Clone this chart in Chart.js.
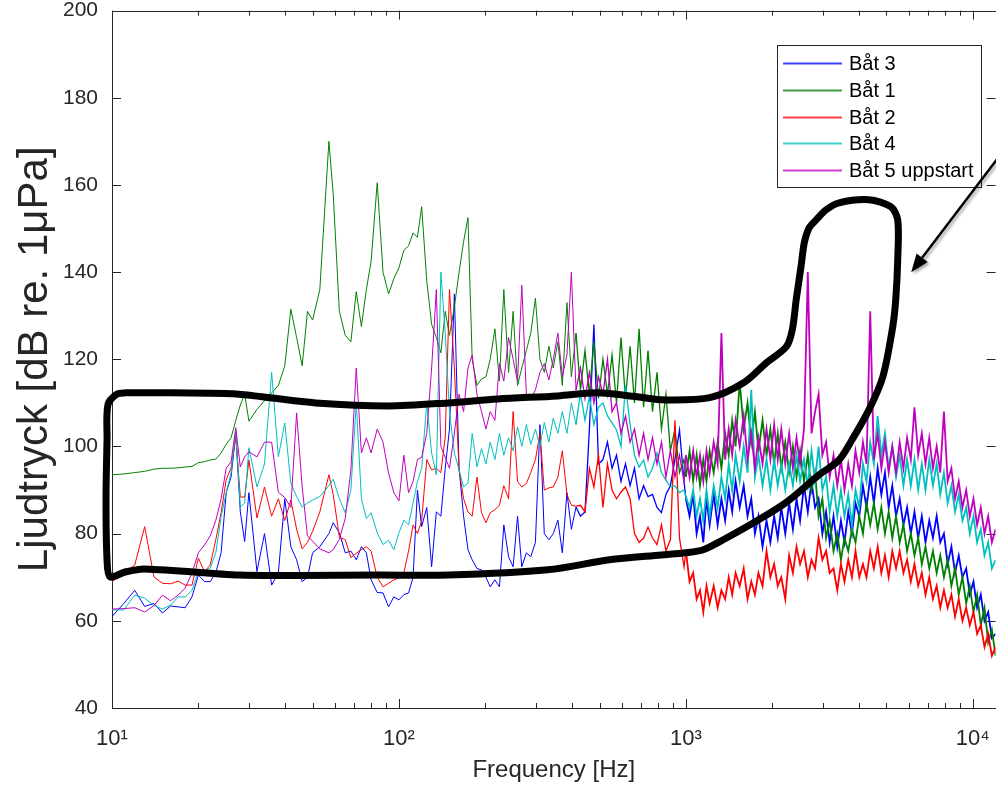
<!DOCTYPE html>
<html>
<head>
<meta charset="UTF-8">
<title>Ljudtryck</title>
<script src="https://cdn.jsdelivr.net/npm/chart.js"></script>
<style>
  html, body { margin: 0; padding: 0; background: #fff; overflow: hidden; }
  #wrap { position: absolute; left: 0; top: -16px; }
</style>
</head>
<body>
<div id="wrap"><canvas id="myChart" width="1008" height="801"></canvas></div>
<script>
// frequency grid [Hz], rows of 10
var freq = [
  10, 11, 12, 13, 14, 15, 16, 17, 18, 19,
  20, 21, 22, 23, 24, 25, 26, 27, 28, 29,
  30, 32, 34, 36, 38, 40, 42, 44, 46, 48,
  50, 53, 57, 59, 62, 65, 68, 71, 74, 77,
  80, 84, 88, 92, 96, 100, 104, 108, 112, 116,
  120, 125, 130, 135, 140, 145, 150, 156, 162, 168,
  174, 180, 187, 194, 201, 208, 216, 224, 232, 241,
  250, 259, 268, 278, 288, 299, 310, 321, 333, 345,
  358, 371, 385, 399, 414, 429, 445, 461, 478, 496,
  514, 533, 553, 573, 594, 616, 639, 662, 687, 712,
  738, 765, 793, 822, 852, 883, 916, 950, 985, 1000,
  1030, 1060, 1090, 1120, 1150, 1180, 1210, 1250, 1290, 1330,
  1370, 1410, 1450, 1490, 1540, 1590, 1640, 1690, 1740, 1790,
  1850, 1910, 1970, 2030, 2090, 2150, 2220, 2290, 2360, 2430,
  2500, 2580, 2660, 2740, 2820, 2900, 2990, 3080, 3170, 3270,
  3370, 3470, 3570, 3680, 3790, 3900, 4020, 4140, 4260, 4390,
  4520, 4660, 4800, 4940, 5090, 5240, 5400, 5560, 5730, 5900,
  6080, 6260, 6450, 6640, 6840, 7050, 7260, 7480, 7700, 7930,
  8170, 8420, 8670, 8930, 9200, 9480, 9760, 10050, 10350, 10660,
  10980, 11310, 11650, 12000
];

// Båt 3 (blue)
var bat3 = [
  61.0, 64.0, 67.0, 63.3, 64.0, 61.8, 63.4, 63.2, 63.0, 65.5,
  70.5, 69.0, 69.0, 71.0, 75.6, 89.4, 93.0, 103.0, 85.0, 78.2,
  89.4, 71.3, 80.0, 68.2, 71.0, 88.0, 77.0, 74.0, 69.0, 70.0,
  75.6, 77.0, 80.0, 82.5, 80.2, 75.6, 76.0, 74.0, 77.0, 75.6,
  69.4, 66.5, 66.4, 63.2, 65.5, 64.8, 66.0, 66.4, 70.0, 90.0,
  81.6, 86.0, 72.4, 85.0, 84.0, 95.0, 104.0, 135.0, 95.0, 84.0,
  76.3, 74.0, 72.0, 71.7, 70.0, 67.8, 69.4, 67.8, 82.0, 74.7,
  72.4, 84.0, 72.4, 75.6, 74.7, 78.0, 105.0, 80.0, 78.6, 80.0,
  83.1, 75.6, 89.4, 81.0, 86.1, 84.0, 85.0, 104.0, 128.0, 96.0,
  97.0, 101.0, 95.0, 98.0, 92.0, 96.0, 91.0, 95.0, 88.0, 91.0,
  88.5, 89.0, 86.0, 84.8, 89.0, 91.0, 97.0, 103.8, 92.0, 88.0,
  84, 89, 80, 84, 78, 88, 82, 89, 82, 88,
  83, 90, 85, 92, 86, 91, 84, 88, 80, 84,
  77, 83, 78, 84, 79, 86, 80, 87, 81, 88,
  83, 91, 85, 92, 86, 88, 80, 85, 78, 84,
  77, 83, 78, 85, 80, 87, 84, 91, 86, 93,
  87, 95, 89, 94, 86, 91, 84, 88, 82, 86,
  80, 85, 79, 84, 78, 83, 79, 84, 78, 80,
  73, 77, 71, 75, 70, 72, 66, 69, 63, 66,
  60, 62, 56, 57
];

// Båt 1 (green)
var bat1 = [
  93.5, 93.7, 94.0, 94.3, 94.8, 95.0, 95.0, 95.1, 95.3, 95.4,
  96.3, 96.5, 96.9, 97.1, 98.5, 100.5, 102.0, 106.0, 109.5, 112.0,
  105.8, 108.5, 110.5, 112.3, 114.0, 118.5, 131.5, 125.0, 118.5, 131.0,
  129.0, 136.0, 170.0, 158.0, 131.0, 125.5, 124.0, 135.5, 127.5, 136.0,
  142.5, 160.5, 140.0, 135.0, 138.5, 141.0, 145.0, 146.0, 149.0, 148.0,
  155.0, 138.0, 128.0, 125.0, 121.5, 131.0, 125.5, 132.0, 140.0, 147.0,
  152.5, 120.0, 114.0, 115.5, 116.0, 120.0, 127.0, 115.0, 136.0, 117.0,
  131.0, 114.0, 118.0, 122.0, 126.0, 134.0, 120.0, 117.0, 123.0, 118.0,
  124.0, 114.0, 133.0, 116.0, 126.0, 113.0, 122.0, 112.0, 124.0, 111.0,
  120.0, 112.0, 121.0, 110.0, 125.0, 111.0, 123.0, 110.0, 127.0, 109.0,
  122.0, 108.0, 117.0, 104.0, 112.0, 99.0, 104.0, 94.0, 97.0, 93.0,
  99, 92, 98, 91, 97, 92, 99, 94, 101, 95,
  103, 98, 106, 100, 115, 104, 110, 101, 108, 99,
  106, 98, 104, 96, 103, 95, 101, 94, 100, 93,
  99, 92, 98, 90, 94, 84, 88, 79, 83, 76,
  80, 74, 79, 76, 81, 78, 84, 80, 87, 82,
  87, 81, 86, 80, 85, 79, 84, 78, 82, 76,
  80, 75, 79, 73, 77, 72, 76, 71, 75, 70,
  74, 68, 72, 66, 70, 64, 68, 62, 66, 59,
  63, 55, 58, 52
];

// Båt 2 (red)
var bat2 = [
  69.0, 71.0, 72.8, 81.6, 70.1, 68.6, 68.5, 69.1, 68.2, 68.2,
  74.4, 71.3, 72.8, 78.6, 84.8, 92.3, 95.1, 102.2, 88.4, 88.4,
  96.9, 83.6, 90.7, 84.0, 88.0, 83.0, 87.7, 81.0, 76.5, 78.0,
  80.5, 85.0, 93.5, 89.0, 79.2, 78.6, 74.5, 75.5, 76.3, 77.0,
  76.0, 70.0, 67.8, 68.6, 69.4, 69.8, 71.0, 76.0, 82.0, 80.0,
  83.0, 97.0, 94.6, 95.0, 94.0, 102.2, 136.0, 118.0, 94.6, 88.0,
  85.0, 84.0, 93.0, 84.8, 82.5, 84.8, 85.5, 86.5, 91.0, 88.0,
  108.0, 92.0, 90.7, 91.5, 94.0, 97.0, 103.0, 90.0, 90.5, 90.7,
  93.0, 99.0, 89.0, 86.5, 86.3, 86.5, 85.0, 95.0, 90.7, 98.0,
  86.0, 96.0, 90.0, 88.0, 89.5, 90.7, 88.0, 80.0, 78.0, 79.0,
  81.5, 79.0, 77.5, 82.0, 76.0, 78.6, 106.0, 79.0, 72.4, 76.0,
  69, 71, 65, 67, 62, 68, 64, 68, 63, 67,
  65, 70, 66, 71, 68, 72, 65, 69, 66, 71,
  68, 76, 70, 73, 68, 70, 65, 75, 71, 77,
  73, 76, 70, 74, 72, 79, 74, 76, 71, 72,
  67, 73, 69, 74, 70, 76, 70, 73, 70, 76,
  72, 77, 71, 75, 70, 76, 72, 76, 71, 74,
  69, 73, 68, 71, 66, 70, 65, 68, 63, 67,
  63, 66, 61, 65, 60, 63, 59, 62, 57, 59,
  54, 57, 52, 54
];

// Båt 4 (cyan)
var bat4 = [
  62.5, 62.5, 65.9, 65.2, 63.5, 62.7, 63.6, 65.5, 65.5, 67.0,
  71.4, 71.4, 72.1, 75.6, 83.8, 89.4, 93.9, 103.8, 86.1, 87.0,
  99.7, 90.7, 96.0, 117.0, 97.6, 105.4, 91.6, 88.5, 86.1, 87.0,
  87.7, 88.5, 91.0, 92.5, 88.0, 84.8, 90.0, 110.0, 88.0, 83.5,
  84.8, 80.2, 77.5, 78.5, 76.3, 80.2, 83.1, 82.0, 87.0, 92.0,
  95.0, 110.0, 98.5, 93.5, 140.0, 126.0, 108.0, 98.5, 94.6, 90.7,
  91.6, 103.0, 95.3, 99.5, 96.0, 101.0, 97.0, 103.0, 98.0, 102.0,
  99.0, 104.5, 100.0, 105.0, 100.5, 104.0, 100.0, 105.5, 101.0, 106.5,
  103.0, 108.0, 103.0, 110.0, 105.0, 112.3, 106.0, 111.4, 105.0, 109.0,
  110.0, 107.0, 105.4, 103.8, 100.0, 114.0, 105.0, 98.0, 95.3, 96.9,
  93.0, 95.0, 98.5, 94.0, 92.3, 90.7, 91.0, 89.4, 90.0, 88.5,
  86, 90, 84, 88, 83, 90, 84, 91, 86, 93,
  88, 96, 90, 98, 92, 100, 94, 113, 93, 98,
  91, 97, 90, 97, 91, 96, 90, 96, 91, 98,
  92, 97, 91, 99, 92, 100, 90, 93, 85, 91,
  84, 90, 84, 89, 82, 90, 86, 96, 92, 101,
  96, 107, 98, 103, 95, 100, 93, 98, 91, 97,
  91, 97, 90, 96, 90, 97, 91, 96, 89, 94,
  87, 91, 85, 89, 83, 86, 80, 84, 78, 81,
  75, 78, 72, 74
];

// Båt 5 uppstart (magenta)
var bat5 = [
  62.7, 62.8, 63.0, 62.0, 63.5, 65.9, 64.6, 65.9, 67.5, 71.0,
  75.6, 77.4, 79.5, 83.0, 88.0, 95.0, 96.5, 104.3, 95.3, 97.6,
  98.8, 97.6, 101.0, 101.0, 89.5, 88.3, 86.0, 107.7, 90.7, 79.5,
  78.3, 76.5, 75.6, 76.3, 78.7, 83.5, 94.6, 118.0, 98.5, 102.0,
  98.5, 104.0, 101.0, 93.9, 89.4, 87.5, 98.0, 89.4, 92.0, 97.0,
  97.5, 103.0, 118.0, 136.0, 100.0, 97.5, 95.0, 103.0, 112.0, 108.0,
  118.0, 121.0, 112.0, 108.0, 104.0, 108.0, 106.0, 119.0, 115.0, 125.0,
  120.0, 115.0, 137.0, 112.0, 110.7, 113.0, 117.0, 119.0, 115.3, 120.0,
  126.0, 116.0, 121.0, 140.0, 113.0, 118.0, 111.0, 117.0, 110.0, 116.0,
  112.0, 120.0, 108.0, 110.0, 103.0, 107.0, 101.0, 104.0, 98.0, 103.0,
  97.0, 102.0, 96.0, 101.0, 93.0, 99.0, 93.0, 98.0, 92.0, 98.0,
  93, 99, 93, 98, 92, 99, 94, 101, 96, 126,
  97, 104, 98, 106, 100, 107, 97, 103, 95, 102,
  96, 104, 97, 105, 97, 104, 96, 103, 95, 102,
  96, 104, 140, 103, 108, 112, 98, 101, 93, 98,
  91, 97, 90, 96, 91, 99, 94, 101, 96, 131,
  97, 103, 95, 101, 94, 100, 94, 101, 95, 102,
  97, 109, 98, 103, 96, 102, 95, 100, 94, 108,
  92, 95, 88, 92, 86, 90, 84, 88, 82, 86,
  80, 84, 78, 81
];

var names = ['Båt 3', 'Båt 1', 'Båt 2', 'Båt 4', 'Båt 5 uppstart'];
var colors = ['#0000ff', '#008000', '#ff0000', '#00bfbf', '#bf00bf'];

var xMajor = [10, 100, 1000, 10000];
var xMajorLabels = ['10\u00b9', '10\u00b2', '10\u00b3', '10\u2074'];
var yTicks = [40, 60, 80, 100, 120, 140, 160, 180, 200];

// hand drawn outline, [Hz, dB]
var outline = [
  [16, 112.3], [26.3, 112.1], [33.4, 111.4], [51.3, 110.0], [91.9, 109.3],
  [148.5, 110.0], [221, 110.9], [357, 111.6], [491, 112.3], [676, 111.4],
  [826, 110.7], [1211, 111.2], [1589, 114.6], [1909, 119.2], [2239, 122.9],
  [2349, 126.8], [2424, 133.7], [2524, 141.7], [2585, 146.7], [2691, 150.2],
  [2845, 152.0], [3082, 154.3], [3418, 155.9], [4343, 156.6], [5176, 155.0],
  [5473, 152.0], [5473, 142.8], [5387, 133.7], [5260, 127.5], [4857, 116.0],
  [4343, 108.4], [3790, 101.5], [3418, 96.9], [2914, 93.5], [2250, 87.3],
  [1805, 83.3], [1350, 78.6], [1150, 76.3], [1000, 75.6], [820, 75.1],
  [540, 74.0], [330, 71.7], [148.5, 70.5], [84.9, 70.5], [44.8, 70.4],
  [27.8, 70.5], [13.0, 71.9], [11.1, 71.2], [9.84, 70.1], [9.61, 74.0],
  [9.53, 87.7], [9.61, 101.5], [9.68, 109.6], [10.4, 112.0], [11.1, 112.3],
  [16, 112.3]
];
// arrow [Hz, dB]: from, to
var arrow = [[12500, 167], [6100, 140]];

var xTickValues = [];
xMajor.forEach(function(d) {
  for (var k = 1; k <= 9; k++) {
    if (k * d <= 12000) xTickValues.push(k * d);
  }
});

function pts(vals) {
  return freq.map(function(f, i) { return { x: f, y: vals[i] }; });
}

var axesBox = {
  id: 'axesBox',
  beforeDatasetsDraw: function(chart) {
    var ctx = chart.ctx, a = chart.chartArea;
    var xs = chart.scales.x, ys = chart.scales.y;
    ctx.save();
    ctx.strokeStyle = '#262626';
    ctx.lineWidth = 1;
    ctx.beginPath();
    xs.ticks.forEach(function(t) {
      var px = Math.round(xs.getPixelForValue(t.value)) + 0.5;
      var len = xMajor.indexOf(t.value) >= 0 ? 9 : 5;
      ctx.moveTo(px, a.bottom); ctx.lineTo(px, a.bottom - len);
      ctx.moveTo(px, a.top); ctx.lineTo(px, a.top + len);
    });
    ys.ticks.forEach(function(t) {
      var py = Math.round(ys.getPixelForValue(t.value)) + 0.5;
      ctx.moveTo(a.left, py); ctx.lineTo(a.left + 9, py);
      ctx.moveTo(a.right, py); ctx.lineTo(a.right - 9, py);
    });
    ctx.stroke();
    ctx.strokeRect(Math.round(a.left) + 0.5, Math.round(a.top) + 0.5,
      Math.round(a.right - a.left), Math.round(a.bottom - a.top));
    ctx.restore();
  }
};

var boxLegend = {
  id: 'boxLegend',
  afterDraw: function(chart) {
    var ctx = chart.ctx, a = chart.chartArea;
    var items = chart.data.datasets.filter(function(d) { return !d.isOutline; });
    var w = 204, h = 142, rowH = 26.8;
    var left = Math.round(a.right - 15 - w), top = Math.round(a.top + 34);
    ctx.save();
    ctx.fillStyle = '#fff';
    ctx.fillRect(left, top, w, h);
    ctx.strokeStyle = '#262626';
    ctx.lineWidth = 1;
    ctx.strokeRect(left + 0.5, top + 0.5, w, h);
    ctx.font = '20px "Liberation Sans", Arial, sans-serif';
    ctx.textBaseline = 'middle';
    items.forEach(function(d, i) {
      var y = Math.round(top + 18 + i * rowH) + 0.5;
      ctx.strokeStyle = d.borderColor;
      ctx.globalAlpha = 0.75;
      ctx.lineWidth = 2;
      ctx.beginPath();
      ctx.moveTo(left + 6, y);
      ctx.lineTo(left + 65, y);
      ctx.stroke();
      ctx.globalAlpha = 1;
      ctx.fillStyle = '#000';
      ctx.fillText(d.label, left + 72, y + 1);
    });
    ctx.restore();
  }
};

var arrowPlugin = {
  id: 'arrowPlugin',
  afterDraw: function(chart) {
    var ctx = chart.ctx, xs = chart.scales.x, ys = chart.scales.y;
    var x0 = xs.getPixelForValue(arrow[0][0]), y0 = ys.getPixelForValue(arrow[0][1]);
    var x1 = xs.getPixelForValue(arrow[1][0]), y1 = ys.getPixelForValue(arrow[1][1]);
    var ang = Math.atan2(y1 - y0, x1 - x0);
    var head = 18, half = 7;
    var bx = x1 - head * Math.cos(ang), by = y1 - head * Math.sin(ang);
    ctx.save();
    ctx.shadowColor = 'rgba(0,0,0,0.35)';
    ctx.shadowBlur = 3;
    ctx.shadowOffsetX = 2;
    ctx.shadowOffsetY = 2;
    ctx.strokeStyle = '#000';
    ctx.fillStyle = '#000';
    ctx.lineWidth = 2.5;
    ctx.beginPath();
    ctx.moveTo(x0, y0);
    ctx.lineTo(bx, by);
    ctx.stroke();
    ctx.beginPath();
    ctx.moveTo(x1, y1);
    ctx.lineTo(bx + half * Math.sin(ang), by - half * Math.cos(ang));
    ctx.lineTo(bx - half * Math.sin(ang), by + half * Math.cos(ang));
    ctx.closePath();
    ctx.fill();
    ctx.restore();
  }
};

Chart.defaults.font.family = '"Liberation Sans", Arial, Helvetica, sans-serif';
Chart.defaults.color = '#262626';

// denser spectra above a few hundred Hz are drawn a bit heavier
function segWidth(c) {
  var f = freq[c.p0DataIndex];
  if (f >= 1000) return 1.8;
  if (f >= 400) return 1.3;
  return 1;
}

var series = [bat3, bat1, bat2, bat4, bat5];
var datasets = series.map(function(vals, i) {
  return {
    label: names[i],
    data: pts(vals),
    borderColor: colors[i],
    backgroundColor: colors[i],
    borderWidth: 1,
    segment: { borderWidth: segWidth },
    pointRadius: 0,
    tension: 0,
    fill: false,
    order: 5 - i
  };
});
datasets.push({
  label: '',
  isOutline: true,
  data: outline.map(function(p) { return { x: p[0], y: p[1] }; }),
  borderColor: '#000',
  borderWidth: 7,
  pointRadius: 0,
  tension: 0.3,
  fill: false,
  clip: false,
  borderJoinStyle: 'round',
  borderCapStyle: 'round',
  order: 0
});

var ctx = document.getElementById('myChart').getContext('2d');
var chart = new Chart(ctx, {
  type: 'line',
  data: { datasets: datasets },
  options: {
    responsive: false,
    animation: false,
    devicePixelRatio: 1,
    layout: { padding: { top: 19, right: 8, bottom: 0, left: 0 } },
    plugins: {
      legend: { display: false },
      tooltip: { enabled: false }
    },
    scales: {
      x: {
        type: 'logarithmic',
        min: 10,
        max: 12000,
        grid: { display: false, drawTicks: false },
        border: { display: false },
        afterBuildTicks: function(scale) {
          scale.ticks = xTickValues.map(function(v) { return { value: v }; });
        },
        afterFit: function(scale) { scale.height = 77; },
        ticks: {
          autoSkip: false,
          maxRotation: 0,
          padding: 18,
          font: { size: 22 },
          color: '#262626',
          callback: function(v) {
            var i = xMajor.indexOf(v);
            return i >= 0 ? xMajorLabels[i] : '';
          }
        },
        title: {
          display: true,
          text: 'Frequency [Hz]',
          font: { size: 24 },
          color: '#262626',
          padding: { top: 0, bottom: 0 }
        }
      },
      y: {
        min: 40,
        max: 200,
        grid: { display: false, drawTicks: false },
        border: { display: false },
        afterBuildTicks: function(scale) {
          scale.ticks = yTicks.map(function(v) { return { value: v }; });
        },
        afterFit: function(scale) { scale.width = 112; },
        ticks: {
          padding: 14,
          font: { size: 21 },
          color: '#262626'
        },
        title: {
          display: true,
          text: 'Ljudtryck [dB re. 1\u03bcPa]',
          font: { size: 42 },
          color: '#262626',
          padding: { top: 10, bottom: 0 }
        }
      }
    }
  },
  plugins: [axesBox, boxLegend, arrowPlugin]
});
</script>
</body>
</html>
